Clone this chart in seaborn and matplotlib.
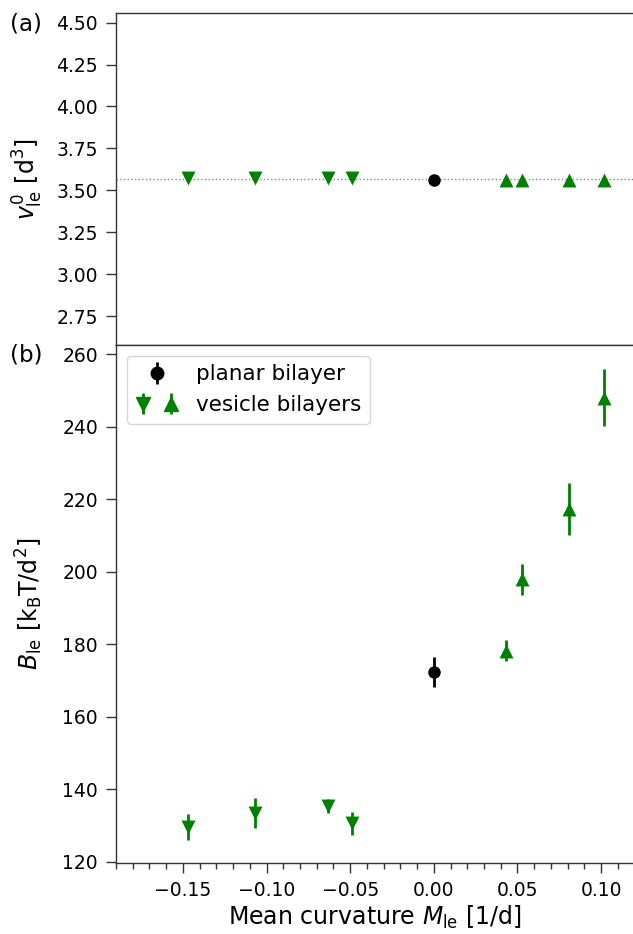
import numpy as np
import pandas as pd
import matplotlib
matplotlib.use("Agg")
import matplotlib.pyplot as plt
from matplotlib.lines import Line2D
from matplotlib.legend_handler import HandlerTuple
from matplotlib.ticker import MultipleLocator
import seaborn as sns

# ---------------- data ----------------
planar_M = [0.0]
planar_v = [3.563]
planar_B = [172.3]
planar_Berr = [4.2]

down_M = [-0.147, -0.107, -0.063, -0.049]
down_v = [3.575, 3.575, 3.574, 3.574]
down_B = [129.5, 133.4, 135.4, 130.6]
down_Berr = [3.5, 4.1, 2.0, 3.2]

up_M = [0.043, 0.053, 0.081, 0.102]
up_v = [3.560, 3.560, 3.559, 3.560]
up_B = [178.2, 197.9, 217.2, 248.0]
up_Berr = [2.8, 4.3, 7.1, 7.8]

v_reference = 3.566

top_yticks = [2.75, 3.00, 3.25, 3.50, 3.75, 4.00, 4.25, 4.50]
bottom_yticks = [120, 140, 160, 180, 200, 220, 240, 260]
x_ticks = [-0.15, -0.10, -0.05, 0.00, 0.05, 0.10]

# ---------------- style ----------------
sns.set_style("ticks")
plt.rcParams["font.family"] = ["DejaVu Sans"]
plt.rcParams["mathtext.fontset"] = "dejavusans"
plt.rcParams["axes.edgecolor"] = "#333333"
plt.rcParams["axes.linewidth"] = 1.0
plt.rcParams["text.color"] = "black"
plt.rcParams["axes.labelcolor"] = "black"

W, H = 633, 934
fig = plt.figure(figsize=(W / 100, H / 100), dpi=100)
gs = fig.add_gridspec(2, 1, height_ratios=[331.7, 517.7], hspace=0,
                      left=116 / W, right=634.5 / W,
                      top=1 - 13.3 / H, bottom=1 - 862.7 / H)
ax1 = fig.add_subplot(gs[0])
ax2 = fig.add_subplot(gs[1], sharex=ax1)

green = "#008000"
ms_tri = 10
ms_circ = 9
tick_fs = 13.5
label_fs = 17

planar_df = pd.DataFrame({"M": planar_M, "v": planar_v, "B": planar_B, "err": planar_Berr})
down_df = pd.DataFrame({"M": down_M, "v": down_v, "B": down_B, "err": down_Berr})
up_df = pd.DataFrame({"M": up_M, "v": up_v, "B": up_B, "err": up_Berr})

# ---------------- panel (a) ----------------
ax1.axhline(v_reference, color="#888888", ls=":", lw=1.0, zorder=1)
sns.scatterplot(data=down_df, x="M", y="v", marker="v", color=green, s=ms_tri**2,
                linewidth=0, ax=ax1, zorder=3, legend=False)
sns.scatterplot(data=up_df, x="M", y="v", marker="^", color=green, s=ms_tri**2,
                linewidth=0, ax=ax1, zorder=3, legend=False)
sns.scatterplot(data=planar_df, x="M", y="v", marker="o", color="black", s=ms_circ**2,
                linewidth=0, ax=ax1, zorder=3, legend=False)
ax1.set_ylim(2.577, 4.556)
ax1.set_yticks(top_yticks)
ax1.set_yticklabels([f"{t:.2f}" for t in top_yticks])
ax1.set_ylabel(r"$v^0_{\rm le}$ [d$^3$]", fontsize=label_fs, labelpad=8)
ax1.set_xlabel("")
ax1.tick_params(axis="x", which="both", bottom=False, labelbottom=False)

# ---------------- panel (b) ----------------
e_planar = ax2.errorbar(planar_df["M"], planar_df["B"], yerr=planar_df["err"], fmt="none",
                        ecolor="black", elinewidth=2, capsize=0, zorder=2)
e_down = ax2.errorbar(down_df["M"], down_df["B"], yerr=down_df["err"], fmt="none",
                      ecolor=green, elinewidth=2, capsize=0, zorder=2)
e_up = ax2.errorbar(up_df["M"], up_df["B"], yerr=up_df["err"], fmt="none",
                    ecolor=green, elinewidth=2, capsize=0, zorder=2)
sns.scatterplot(data=down_df, x="M", y="B", marker="v", color=green, s=ms_tri**2,
                linewidth=0, ax=ax2, zorder=3, legend=False)
sns.scatterplot(data=up_df, x="M", y="B", marker="^", color=green, s=ms_tri**2,
                linewidth=0, ax=ax2, zorder=3, legend=False)
sns.scatterplot(data=planar_df, x="M", y="B", marker="o", color="black", s=ms_circ**2,
                linewidth=0, ax=ax2, zorder=3, legend=False)
ax2.set_ylim(119.7, 262.5)
ax2.set_yticks(bottom_yticks)
ax2.set_xlim(-0.19, 0.12)
ax2.set_xticks(x_ticks)
ax2.set_xticklabels([f"{t:.2f}".replace("-", "\u2212") for t in x_ticks])
ax2.xaxis.set_minor_locator(MultipleLocator(0.01))
ax2.set_ylabel(r"$B_{\rm le}$ [k$_{\rm B}$T/d$^2$]", fontsize=label_fs, labelpad=8)
ax2.set_xlabel(r"Mean curvature $M_{\rm le}$ [1/d]", fontsize=label_fs, labelpad=3)

for ax in (ax1, ax2):
    ax.tick_params(axis="both", which="major", labelsize=tick_fs, length=7, width=1.0,
                   pad=6, color="#333333", labelcolor="black")
    ax.tick_params(axis="both", which="minor", length=4, width=1.0, color="#333333")

# legend
h_planar_m = Line2D([], [], marker="o", color="black", ls="none", markersize=ms_circ)
h_down_m = Line2D([], [], marker="v", color=green, ls="none", markersize=ms_tri)
h_up_m = Line2D([], [], marker="^", color=green, ls="none", markersize=ms_tri)
handles = [(e_planar, h_planar_m), ((e_down, h_down_m), (e_up, h_up_m))]
hm = {handles[0]: HandlerTuple(ndivide=1),
      handles[1]: HandlerTuple(ndivide=None, pad=0.6),
      handles[1][0]: HandlerTuple(ndivide=1),
      handles[1][1]: HandlerTuple(ndivide=1)}
ax2.legend(handles, ["planar bilayer", "vesicle bilayers"], handler_map=hm,
           loc="upper left", fontsize=15.5, frameon=True, edgecolor="#cccccc",
           fancybox=True)

fig.align_ylabels([ax1, ax2])

fig.text(10 / W, 1 - 24 / H, "(a)", fontsize=16.5, ha="left", va="center")
fig.text(10 / W, 1 - 355.5 / H, "(b)", fontsize=16.5, ha="left", va="center")

fig.savefig("out.png", dpi=100)
